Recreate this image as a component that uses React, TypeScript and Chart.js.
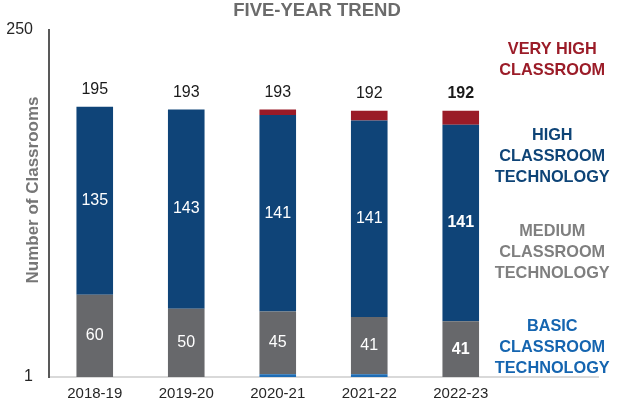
import React, { useEffect, useRef } from 'react';
import { Chart, registerables } from 'chart.js';

Chart.register(...registerables);

const categories = ['2018-19', '2019-20', '2020-21', '2021-22', '2022-23', ''];
const basic = [0, 0, 3, 3, 0, null];
const medium = [60, 50, 45, 41, 41, null];
const high = [135, 143, 141, 141, 141, null];
const veryHigh = [0, 0, 4, 7, 10, null];
const totals = [195, 193, 193, 192, 192, null];
const yTickValues = [1, 250];
const chartTitle = 'FIVE-YEAR TREND';
const yAxisTitle = 'Number of Classrooms';
const legendBlocks = [
  ['VERY HIGH', 'CLASSROOM'],
  ['HIGH', 'CLASSROOM', 'TECHNOLOGY'],
  ['MEDIUM', 'CLASSROOM', 'TECHNOLOGY'],
  ['BASIC', 'CLASSROOM', 'TECHNOLOGY'],
];
const highlightIndex = 4;

const FONT = '"Liberation Sans", Arial, sans-serif';
const COLORS = {
  basic: '#1d6cb5',
  medium: '#67686b',
  high: '#0f4478',
  veryHigh: '#9a1b27',
};
const LEGEND_COLORS = ['#9b1c28', '#0e4477', '#7f7f7f', '#1565b0'];
const LEGEND_OFFSETS = [20, 106, 202, 297];

const labelPlugin = {
  id: 'customLabels',
  afterDatasetsDraw(chart: any) {
    const ctx = chart.ctx;
    const xs = chart.scales.x;
    const ys = chart.scales.y;
    const area = chart.chartArea;
    ctx.save();
    ctx.textAlign = 'center';
    ctx.textBaseline = 'middle';
    // chart title
    ctx.fillStyle = '#6b6b6b';
    ctx.font = 'bold 18.5px ' + FONT;
    ctx.fillText(chartTitle, chart.width / 2 + 1.5, 11);
    // inside labels for medium (1) and high (2)
    [1, 2].forEach((di) => {
      const meta = chart.getDatasetMeta(di);
      meta.data.forEach((bar: any, i: number) => {
        const v = chart.data.datasets[di].data[i];
        if (v == null) return;
        const p = bar.getProps(['x', 'y', 'base'], true);
        const bottom = Math.min(p.base, area.bottom);
        const cy = (p.y + bottom) / 2;
        ctx.fillStyle = '#ffffff';
        ctx.font = (i === highlightIndex ? 'bold ' : '') + '16px ' + FONT;
        ctx.fillText(String(v), p.x, cy);
      });
    });
    // totals
    totals.forEach((t, i) => {
      if (t == null) return;
      const x = xs.getPixelForValue(i);
      const y = ys.getPixelForValue(t) - 17;
      ctx.fillStyle = '#1a1a1a';
      ctx.font = (i === highlightIndex ? 'bold ' : '') + '16px ' + FONT;
      ctx.fillText(String(t), x, y);
    });
    // legend text blocks
    const lx = xs.getPixelForValue(5);
    ctx.font = 'bold 16.3px ' + FONT;
    legendBlocks.forEach((lines, bi) => {
      ctx.fillStyle = LEGEND_COLORS[bi];
      lines.forEach((line, li) => {
        ctx.fillText(line, lx, area.top + LEGEND_OFFSETS[bi] + li * 20.8);
      });
    });
    // y axis title
    ctx.translate(area.left - 16, area.top + 160);
    ctx.rotate(-Math.PI / 2);
    ctx.fillStyle = '#767676';
    ctx.font = 'bold 17px ' + FONT;
    ctx.fillText(yAxisTitle, 0, 0);
    ctx.restore();
  },
};

export default function App() {
  const ref = useRef<HTMLCanvasElement>(null);
  useEffect(() => {
    if (!ref.current) return;
    const chart = new Chart(ref.current, {
      type: 'bar',
      data: {
        labels: categories,
        datasets: [
          { label: 'Basic', data: basic, backgroundColor: COLORS.basic },
          { label: 'Medium', data: medium, backgroundColor: COLORS.medium },
          { label: 'High', data: high, backgroundColor: COLORS.high },
          { label: 'Very High', data: veryHigh, backgroundColor: COLORS.veryHigh },
        ] as any,
      },
      options: {
        animation: false,
        responsive: false,
        maintainAspectRatio: false,
        layout: { padding: { left: 0, right: 33, top: 30, bottom: 0 } },
        datasets: { bar: { categoryPercentage: 1, barPercentage: 0.4 } } as any,
        plugins: {
          legend: { display: false },
          tooltip: { enabled: false },
          title: { display: false },
        },
        scales: {
          x: {
            stacked: true,
            grid: { display: false, drawTicks: false },
            border: { display: true, color: '#d9d9d9', width: 2 },
            ticks: { color: '#262626', font: { family: FONT, size: 15 }, padding: 8, maxRotation: 0, autoSkip: false },
            afterFit: (s: any) => { s.height = 27; },
          },
          y: {
            stacked: true,
            min: 1,
            max: 250,
            grid: { display: false, drawTicks: false },
            border: { display: true, color: '#595959', width: 2 },
            ticks: { color: '#262626', font: { family: FONT, size: 16 }, padding: 16 },
            afterBuildTicks: (s: any) => { s.ticks = yTickValues.map((v) => ({ value: v })); },
            afterFit: (s: any) => { s.width = 49; },
          },
        },
      },
      plugins: [labelPlugin],
    });
    return () => chart.destroy();
  }, []);
  return (
    <div style={{ position: 'fixed', left: 0, top: 0, width: 631, height: 404, background: '#fff' }}>
      <canvas ref={ref} width={631} height={404} style={{ display: 'block' }} />
    </div>
  );
}
